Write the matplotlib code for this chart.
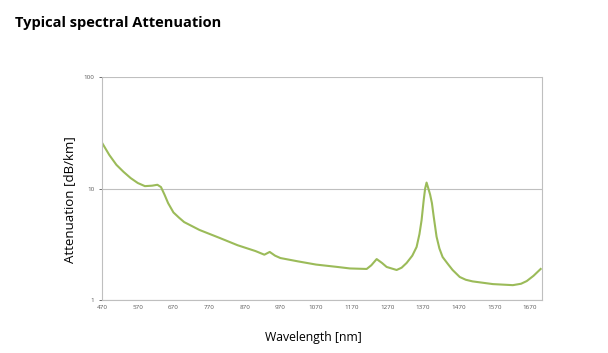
import matplotlib
matplotlib.use("Agg")
import matplotlib.pyplot as plt
from matplotlib.ticker import FixedLocator, FixedFormatter, NullLocator

# values
wavelength = [470, 490, 510, 530, 550, 570, 590, 610, 625, 635, 645, 655, 670, 685, 700, 743,
              800, 850, 900, 925, 940, 955, 970, 1020, 1070, 1130, 1165, 1212, 1225,
              1240, 1255, 1268, 1296, 1310, 1324, 1340, 1352, 1360, 1366, 1372, 1376, 1380,
              1385, 1390, 1395, 1400, 1408, 1416, 1425, 1440, 1453, 1473, 1490, 1509,
              1566, 1622, 1645, 1661, 1680, 1700]
attenuation = [25.6, 20.0, 16.3, 14.1, 12.4, 11.2, 10.5, 10.6, 10.8, 10.3, 8.8, 7.4, 6.1, 5.5, 5.0, 4.25,
               3.6, 3.1, 2.75, 2.55, 2.7, 2.5, 2.38, 2.22, 2.08, 1.98, 1.92, 1.90, 2.05,
               2.33, 2.15, 1.98, 1.86, 1.95, 2.15, 2.5, 2.99, 3.9, 5.2, 7.9, 10.0, 11.3,
               10.0, 8.8, 7.4, 5.6, 3.7, 2.9, 2.43, 2.1, 1.86, 1.61, 1.52, 1.47,
               1.39, 1.36, 1.40, 1.48, 1.65, 1.9]
x_ticks = [470, 570, 670, 770, 870, 970, 1070, 1170, 1270, 1370, 1470, 1570, 1670]
y_ticks = [1, 10, 100]
y_tick_labels = ["1", "10", "100"]

plt.rcParams["font.family"] = ["Open Sans", "DejaVu Sans"]

fig = plt.figure(figsize=(6.08, 3.53), dpi=100)
ax = fig.add_axes([0.168, 0.150, 0.723, 0.632])

ax.plot(wavelength, attenuation, color="#9bbb59", linewidth=1.5)

ax.set_yscale("log")
ax.set_ylim(1, 100)
ax.set_xlim(470, 1703)
ax.yaxis.set_major_locator(FixedLocator(y_ticks))
ax.yaxis.set_major_formatter(FixedFormatter(y_tick_labels))
ax.yaxis.set_minor_locator(NullLocator())
ax.set_xticks(x_ticks)
ax.tick_params(labelsize=4.5, colors="#595959", length=2, width=0.6)
ax.tick_params(axis="x", length=0)
ax.grid(axis="y", color="#bfbfbf", linewidth=0.8)
for side in ("left", "bottom", "right"):
    ax.spines[side].set_color("#bfbfbf")
ax.spines["top"].set_visible(False)

ax.set_xlabel("Wavelength [nm]", fontsize=8.8, color="#000000")
ax.set_ylabel("Attenuation [dB/km]", fontsize=9.5, color="#000000")
ax.xaxis.set_label_coords(0.48, -0.166)
ax.yaxis.set_label_coords(-0.073, 0.448)
ax.xaxis.label.set_va("center")
ax.yaxis.label.set_va("center")

fig.text(0.025, 0.935, "Typical spectral Attenuation", fontsize=10.5, fontweight="bold",
         ha="left", va="center")

fig.savefig("out.png", dpi=100)
